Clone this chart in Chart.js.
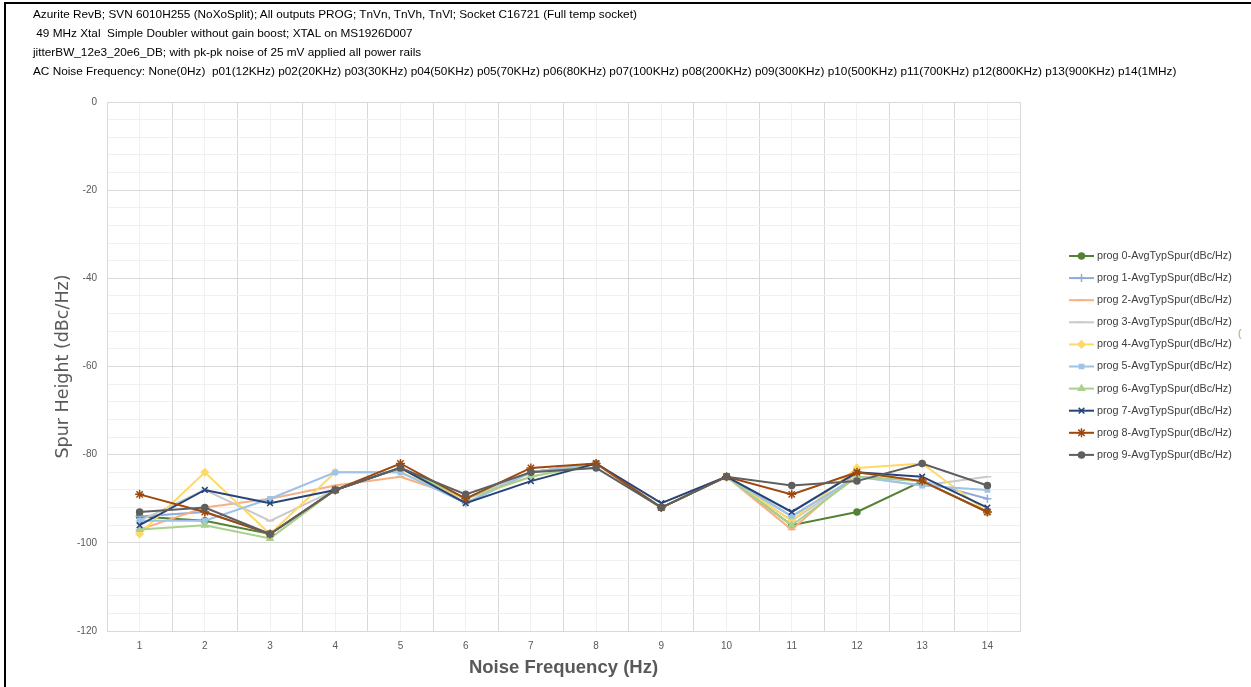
<!DOCTYPE html>
<html>
<head>
<meta charset="utf-8">
<script src="https://cdn.jsdelivr.net/npm/chart.js@4/dist/chart.umd.min.js"></script>
<style>
  body{margin:0;background:#fff;width:1251px;height:687px;overflow:hidden;position:relative;font-family:"Liberation Sans",Arial,sans-serif}
  #frame{position:absolute;left:4px;top:2px;width:1260px;height:700px;border-left:2px solid #000;border-top:2px solid #000}
  #head{position:absolute;left:33px;top:5px;font-size:11.8px;line-height:19px;color:#000;white-space:pre;z-index:2}
  #mark{position:absolute;left:1238px;top:328px;font-size:10px;color:#999}
  canvas{position:absolute;left:0;top:0}
</style>
</head>
<body>
<div id="frame"></div>
<div id="head"></div>
<div id="mark">(</div>
<canvas id="myChart" width="1251" height="687"></canvas>
<script>
const titleLines=[
  'Azurite RevB; SVN 6010H255 (NoXoSplit); All outputs PROG; TnVn, TnVh, TnVl; Socket C16721 (Full temp socket)',
  ' 49 MHz Xtal  Simple Doubler without gain boost; XTAL on MS1926D007',
  'jitterBW_12e3_20e6_DB; with pk-pk noise of 25 mV applied all power rails',
  'AC Noise Frequency: None(0Hz)  p01(12KHz) p02(20KHz) p03(30KHz) p04(50KHz) p05(70KHz) p06(80KHz) p07(100KHz) p08(200KHz) p09(300KHz) p10(500KHz) p11(700KHz) p12(800KHz) p13(900KHz) p14(1MHz)'
];
document.getElementById('head').textContent=titleLines.join('\n');

const labels=['1','2','3','4','5','6','7','8','9','10','11','12','13','14'];
const yTicks=[0,-20,-40,-60,-80,-100,-120];

const prog0=[-94,-95,-98,-88,-83,-90,-84,-82,-92,-85,-96,-93,-86,-93];
const prog1=[-94,-93,-98,-88,-83,-91,-84,-82,-92,-85,-94,-85,-86,-90];
const prog2=[-97,-92,-90,-87,-85,-90,-84,-82,-92,-85,-97,-84,-86,-93];
const prog3=[-95,-88,-95,-88,-83,-90,-84,-82,-92,-85,-95,-85,-87,-85];
const prog4=[-98,-84,-98,-84,-84,-90,-85,-82,-92,-85,-95,-83,-82,-93];
const prog5=[-95,-95,-90,-84,-84,-91,-84,-82,-92,-85,-94,-85,-87,-88];
const prog6=[-97,-96,-99,-88,-83,-90,-85,-82,-92,-85,-96,-85,-86,-93];
const prog7=[-96,-88,-91,-88,-83,-91,-86,-82,-91,-85,-93,-84,-85,-92];
const prog8=[-89,-93,-98,-88,-82,-90,-83,-82,-92,-85,-89,-84,-86,-93];
const prog9=[-93,-92,-98,-88,-83,-89,-84,-83,-92,-85,-87,-86,-82,-87];

const seriesNames=['prog 0-AvgTypSpur(dBc/Hz)','prog 1-AvgTypSpur(dBc/Hz)','prog 2-AvgTypSpur(dBc/Hz)','prog 3-AvgTypSpur(dBc/Hz)','prog 4-AvgTypSpur(dBc/Hz)','prog 5-AvgTypSpur(dBc/Hz)','prog 6-AvgTypSpur(dBc/Hz)','prog 7-AvgTypSpur(dBc/Hz)','prog 8-AvgTypSpur(dBc/Hz)','prog 9-AvgTypSpur(dBc/Hz)'];
const seriesData=[prog0,prog1,prog2,prog3,prog4,prog5,prog6,prog7,prog8,prog9];
const colors=['#548235','#8faadc','#f4b183','#c9c9c9','#ffd966','#9dc3e6','#a9d18e','#264478','#9e480e','#5f5f5f'];
const markers=['circle','cross','line','line','rectRot','rect','triangle','crossRot','star','circle'];
const markerSize=[3,4,4,4,3.5,3,3.5,4,4.5,3];

// legend drawn on the canvas: line + marker + text
const legendPlugin={
  id:'sideLegend',
  afterDraw(chart){
    const ctx=chart.ctx;
    ctx.save();
    chart.data.datasets.forEach((ds,i)=>{
      const y=256+i*22.1;
      ctx.strokeStyle=ds.borderColor;
      ctx.fillStyle=ds.borderColor;
      ctx.lineWidth=2;
      ctx.beginPath();ctx.moveTo(1069,y);ctx.lineTo(1094,y);ctx.stroke();
      if(Chart.helpers&&Chart.helpers.drawPoint){
        ctx.lineWidth=1.5;
        Chart.helpers.drawPoint(ctx,{pointStyle:ds.pointStyle,radius:ds.pointRadius,rotation:0,borderWidth:1.5},1081.5,y);
      }
      ctx.fillStyle='#404040';
      ctx.font='10.8px "Liberation Sans", Arial, sans-serif';
      ctx.textBaseline='middle';
      ctx.fillText(ds.label,1097,y);
    });
    ctx.restore();
  }
};

const ctx=document.getElementById('myChart').getContext('2d');
const chart=new Chart(ctx,{
  type:'line',
  data:{
    labels:labels,
    datasets:seriesData.map((d,i)=>({
      label:seriesNames[i],
      data:d,
      borderColor:colors[i],
      backgroundColor:colors[i],
      pointBackgroundColor:colors[i],
      pointBorderColor:colors[i],
      borderWidth:2,
      pointStyle:markers[i],
      pointRadius:markerSize[i],
      pointBorderWidth:1.5,
      tension:0,
      order:10-i,
      xAxisID:'x'
    }))
  },
  options:{
    responsive:false,
    animation:false,
    devicePixelRatio:1,
    layout:{padding:{left:40,top:102,right:231,bottom:0}},
    plugins:{legend:{display:false},tooltip:{enabled:false}},
    scales:{
      x:{
        type:'category',
        offset:true,
        grid:{offset:true,color:'#d9d9d9',drawTicks:false},
        border:{color:'#d9d9d9'},
        ticks:{color:'#595959',font:{size:10,family:'"Liberation Sans", Arial'},padding:9},
        title:{display:true,text:'Noise Frequency (Hz)',color:'#595959',font:{size:18.5,weight:'bold',family:'"Liberation Sans", Arial'},padding:{bottom:8}},
        afterFit(s){s.height=56;}
      },
      x2:{
        type:'category',
        labels:labels,
        position:'bottom',
        offset:true,
        grid:{offset:false,color:'#f0f0f0',drawTicks:false},
        border:{display:false},
        ticks:{display:false},
        afterFit(s){s.height=0;}
      },
      y:{
        min:-120,max:0,
        grid:{drawTicks:false,color:c=>(c.tick&&c.tick.value%20===0)?'#d9d9d9':'#f0f0f0'},
        border:{color:'#d9d9d9'},
        ticks:{stepSize:4,color:'#595959',padding:10,font:{size:10,family:'"Liberation Sans", Arial'},
          callback:v=>yTicks.includes(v)?String(v):''},
        title:{display:true,text:'Spur Height (dBc/Hz)',color:'#595959',font:{size:17.5,family:'"DejaVu Sans", sans-serif'},padding:{top:13,bottom:0}},
        afterFit(s){s.width=67;}
      }
    }
  },
  plugins:[legendPlugin]
});
</script>
</body>
</html>
